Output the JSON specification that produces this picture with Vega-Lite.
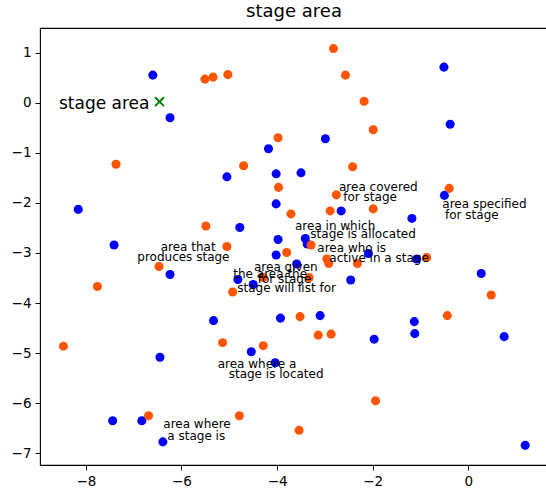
{
  "$schema": "https://vega.github.io/schema/vega-lite/v6.json",
  "width": 508,
  "height": 437,
  "autosize": "none",
  "padding": {"left": 40, "top": 28, "right": 0, "bottom": 24},
  "background": "white",
  "title": {"text": "stage area", "font": "DejaVu Sans", "fontSize": 18, "fontWeight": "normal", "color": "black", "offset": 7},
  "config": {
    "view": {"stroke": "black", "strokeWidth": 1.1},
    "axis": {
      "labelFont": "DejaVu Sans", "labelFontSize": 13.5, "labelColor": "black",
      "tickColor": "black", "tickSize": 5, "tickWidth": 1, "domain": false, "grid": false,
      "title": null, "labelPadding": 4
    }
  },
  "datasets": {
    "blue": [
      {"x": -6.60, "y": 0.55}, {"x": -6.24, "y": -0.30}, {"x": -4.18, "y": -0.92}, {"x": -5.05, "y": -1.48},
      {"x": -4.02, "y": -1.42}, {"x": -8.16, "y": -2.13}, {"x": -4.02, "y": -2.02}, {"x": -4.78, "y": -2.49},
      {"x": -3.98, "y": -2.73}, {"x": -7.41, "y": -2.84}, {"x": -4.02, "y": -3.04}, {"x": -6.24, "y": -3.43},
      {"x": -4.82, "y": -3.53}, {"x": -4.50, "y": -3.63}, {"x": -5.33, "y": -4.35}, {"x": -3.93, "y": -4.30},
      {"x": -4.54, "y": -4.97}, {"x": -6.45, "y": -5.08}, {"x": -4.04, "y": -5.19}, {"x": -7.44, "y": -6.35},
      {"x": -6.83, "y": -6.35}, {"x": -6.39, "y": -6.77}, {"x": -3.41, "y": -2.71}, {"x": -3.37, "y": -2.82},
      {"x": -3.59, "y": -3.22}, {"x": -2.09, "y": -3.01}, {"x": -1.08, "y": -3.12}, {"x": -2.46, "y": -3.54},
      {"x": 0.27, "y": -3.41}, {"x": -3.10, "y": -4.25}, {"x": -1.97, "y": -4.72}, {"x": -1.13, "y": -4.37},
      {"x": -1.12, "y": -4.61}, {"x": 0.75, "y": -4.67}, {"x": 1.19, "y": -6.84}, {"x": -0.51, "y": 0.71},
      {"x": -0.38, "y": -0.43}, {"x": -2.99, "y": -0.72}, {"x": -3.50, "y": -1.40}, {"x": -0.50, "y": -1.85},
      {"x": -2.66, "y": -2.16}, {"x": -1.18, "y": -2.31}
    ],
    "orange": [
      {"x": -5.51, "y": 0.47}, {"x": -5.34, "y": 0.51}, {"x": -5.03, "y": 0.56}, {"x": -3.98, "y": -0.70},
      {"x": -7.37, "y": -1.23}, {"x": -4.70, "y": -1.26}, {"x": -3.97, "y": -1.69}, {"x": -3.71, "y": -2.22},
      {"x": -5.49, "y": -2.46}, {"x": -5.05, "y": -2.87}, {"x": -3.80, "y": -2.99}, {"x": -6.47, "y": -3.27},
      {"x": -7.76, "y": -3.67}, {"x": -4.29, "y": -3.49}, {"x": -4.93, "y": -3.78}, {"x": -8.47, "y": -4.86},
      {"x": -5.14, "y": -4.79}, {"x": -4.29, "y": -4.85}, {"x": -6.69, "y": -6.25}, {"x": -4.79, "y": -6.25},
      {"x": -3.29, "y": -2.84}, {"x": -3.33, "y": -3.49}, {"x": -2.96, "y": -3.12}, {"x": -2.92, "y": -3.21},
      {"x": -2.32, "y": -3.21}, {"x": -0.87, "y": -3.09}, {"x": 0.48, "y": -3.84}, {"x": -3.52, "y": -4.27},
      {"x": -3.14, "y": -4.64}, {"x": -2.87, "y": -4.62}, {"x": -0.44, "y": -4.25}, {"x": -1.94, "y": -5.95},
      {"x": -3.54, "y": -6.54}, {"x": -2.82, "y": 1.08}, {"x": -2.57, "y": 0.55}, {"x": -2.18, "y": 0.03},
      {"x": -1.99, "y": -0.54}, {"x": -2.42, "y": -1.28}, {"x": -0.40, "y": -1.71}, {"x": -2.76, "y": -1.84},
      {"x": -2.89, "y": -2.16}, {"x": -1.99, "y": -2.12}
    ],
    "target": [
      {"x": -6.46, "y": 0.02, "label": "stage area"}
    ],
    "labels": [
      {"x": -2.705, "y": -1.762, "label": "area covered"},
      {"x": -2.615, "y": -1.962, "label": "for stage"},
      {"x": -0.544, "y": -2.108, "label": "area specified"},
      {"x": -0.487, "y": -2.327, "label": "for stage"},
      {"x": -3.626, "y": -2.541, "label": "area in which"},
      {"x": -3.305, "y": -2.695, "label": "stage is allocated"},
      {"x": -6.435, "y": -2.954, "label": "area that"},
      {"x": -6.925, "y": -3.160, "label": "produces stage"},
      {"x": -3.159, "y": -2.974, "label": "area who is"},
      {"x": -2.908, "y": -3.174, "label": "active in a stage"},
      {"x": -4.483, "y": -3.353, "label": "area given"},
      {"x": -4.916, "y": -3.505, "label": "the area the"},
      {"x": -4.406, "y": -3.605, "label": "for stage"},
      {"x": -4.833, "y": -3.772, "label": "stage will list for"},
      {"x": -5.243, "y": -5.289, "label": "area where a"},
      {"x": -5.013, "y": -5.495, "label": "stage is located"},
      {"x": -6.381, "y": -6.499, "label": "area where"},
      {"x": -6.297, "y": -6.733, "label": "a stage is"}
    ]
  },
  "encoding": {
    "x": {"field": "x", "type": "quantitative", "scale": {"domain": [-8.96, 1.667], "nice": false, "zero": false},
          "axis": {"values": [-8, -6, -4, -2, 0]}},
    "y": {"field": "y", "type": "quantitative", "scale": {"domain": [-7.232, 1.491], "nice": false, "zero": false},
          "axis": {"values": [-7, -6, -5, -4, -3, -2, -1, 0, 1]}}
  },
  "layer": [
    {"data": {"name": "blue"}, "mark": {"type": "point", "shape": "circle", "filled": true, "size": 82, "color": "#0000ff", "opacity": 1}},
    {"data": {"name": "orange"}, "mark": {"type": "point", "shape": "circle", "filled": true, "size": 82, "color": "#ff5500", "opacity": 1}},
    {"data": {"name": "target"}, "mark": {"type": "point", "shape": "M-1,-1L1,1M-1,1L1,-1", "filled": false, "size": 80, "strokeWidth": 2, "color": "#008000", "opacity": 1}},
    {"data": {"name": "target"}, "mark": {"type": "text", "align": "right", "baseline": "alphabetic", "dx": -10, "dy": 7, "font": "DejaVu Sans", "fontSize": 17, "color": "black"},
     "encoding": {"text": {"field": "label"}}},
    {"data": {"name": "labels"}, "mark": {"type": "text", "align": "left", "baseline": "alphabetic", "font": "DejaVu Sans", "fontSize": 12, "color": "black"},
     "encoding": {"text": {"field": "label"}}}
  ]
}
